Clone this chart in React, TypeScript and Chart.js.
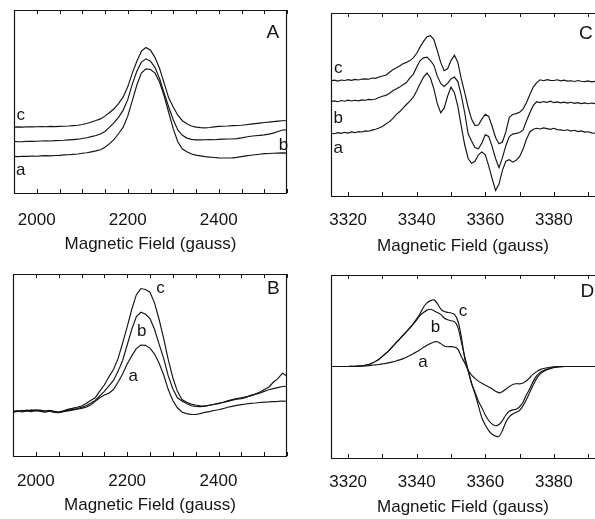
import React, { useEffect, useRef } from 'react';
import { Chart, registerables } from 'chart.js';

Chart.register(...registerables);
Chart.defaults.font.family = '"Liberation Sans", Arial, Helvetica, sans-serif';

// ---------- data ----------
const fieldLow = [
  1950, 1960, 1970, 1980, 1990, 2000, 2010, 2020, 2030, 2040,
  2050, 2060, 2070, 2080, 2090, 2100, 2110, 2120, 2130, 2140,
  2150, 2160, 2170, 2180, 2190, 2200, 2210, 2220, 2230, 2240,
  2250, 2260, 2270, 2280, 2290, 2300, 2310, 2320, 2330, 2340,
  2350, 2360, 2370, 2380, 2390, 2400, 2410, 2420, 2430, 2440,
  2450, 2460, 2470, 2480, 2490, 2500, 2510, 2520, 2530, 2540,
  2550,
];

const fieldHigh = [
  3315, 3316, 3317, 3318, 3319, 3320, 3321, 3322, 3323, 3324,
  3325, 3326, 3327, 3328, 3329, 3330, 3331, 3332, 3333, 3334,
  3335, 3336, 3337, 3338, 3339, 3340, 3341, 3342, 3343, 3344,
  3345, 3346, 3347, 3348, 3349, 3350, 3351, 3352, 3353, 3354,
  3355, 3356, 3357, 3358, 3359, 3360, 3361, 3362, 3363, 3364,
  3365, 3366, 3367, 3368, 3369, 3370, 3371, 3372, 3373, 3374,
  3375, 3376, 3377, 3378, 3379, 3380, 3381, 3382, 3383, 3384,
  3385, 3386, 3387, 3388, 3389, 3390, 3391, 3392,
];

// Panel A
const panelA_a = [
  20.0, 19.9, 20.1, 20.0, 20.2, 20.1, 20.3, 20.4, 20.3, 20.5,
  20.6, 20.8, 20.9, 21.1, 21.3, 21.7, 22.0, 22.5, 23.0, 23.6,
  25.0, 27.0, 29.3, 32.5, 36.0, 42.0, 50.5, 59.0, 65.5, 67.8,
  67.5, 65.5, 60.5, 53.0, 44.0, 35.0, 28.0, 24.0, 22.5, 21.3,
  20.7, 20.3, 19.9, 19.6, 19.4, 19.2, 19.1, 19.1, 19.2, 19.5,
  19.9, 20.3, 20.6, 20.9, 21.2, 21.5, 21.6, 21.7, 21.8, 21.9,
  21.8,
];
const panelA_b = [
  28.2, 28.0, 28.1, 28.3, 28.2, 28.3, 28.4, 28.5, 28.4, 28.6,
  28.7, 28.8, 29.0, 29.2, 29.4, 29.8, 30.2, 30.8, 31.4, 32.2,
  33.6, 36.0, 38.5, 41.5, 45.3, 51.0, 59.5, 66.5, 71.5, 73.3,
  72.0, 68.5, 62.5, 54.5, 47.0, 40.0, 34.5, 31.5, 30.0, 29.3,
  29.0, 29.0, 29.1, 29.2, 29.1, 29.3, 29.4, 29.5, 29.5, 29.7,
  30.1, 30.6, 31.0, 31.3, 31.5, 31.8, 32.2, 32.7, 33.6, 34.4,
  34.5,
];
const panelA_c = [
  36.0, 36.1, 36.0, 36.2, 36.1, 36.2, 36.3, 36.2, 36.4, 36.3,
  36.4, 36.5, 36.6, 36.8, 37.0, 37.4, 38.0, 38.8, 39.6, 40.5,
  42.0, 44.0, 46.0, 49.0, 52.5, 58.0, 65.5, 72.0, 77.5, 79.5,
  78.0, 74.0, 68.0, 60.0, 52.0, 47.0, 42.5, 39.5, 37.8, 36.6,
  36.0, 35.7, 35.6, 35.8, 36.1, 36.4, 36.5, 36.6, 36.8, 36.9,
  37.0, 37.3, 37.6, 37.9, 38.2, 38.5, 38.7, 39.0, 39.3, 39.5,
  39.6,
];

// Panel B
const panelB_a = [
  24.0, 24.6, 24.2, 24.8, 24.4, 24.9, 24.5, 24.1, 24.6, 24.0,
  23.8, 24.3, 24.8, 25.2, 25.7, 26.2, 26.8, 28.0, 30.0, 32.0,
  33.5, 34.5, 36.5, 40.5, 45.0, 50.5, 55.0, 59.0, 61.0, 60.8,
  59.3, 56.0, 51.0, 44.5, 36.5, 30.5, 26.5, 24.2, 23.3, 22.9,
  22.8, 23.3, 24.0, 24.4, 25.0, 25.4, 26.0, 26.8, 27.3, 27.8,
  28.2, 28.6, 28.9, 29.1, 29.4, 29.6, 29.7, 29.9, 30.0, 30.2,
  30.1,
];
const panelB_b = [
  24.8, 24.4, 25.1, 24.7, 25.3, 24.9, 25.2, 24.5, 24.9, 24.4,
  24.0, 24.5, 25.1, 25.6, 26.1, 26.7, 27.6, 29.0, 30.5, 33.0,
  35.5, 38.5, 41.5, 46.5, 52.5, 61.0, 69.5, 76.5, 79.0, 78.0,
  75.5, 69.5, 61.5, 53.5, 44.0, 37.0, 32.0, 30.2, 28.8, 27.6,
  27.3, 27.1, 27.4, 27.9, 28.3, 28.8, 29.5, 30.3, 31.0, 31.5,
  32.0, 32.5, 33.0, 33.8, 34.5, 35.5, 36.4, 37.0, 37.6, 38.2,
  38.3,
];
const panelB_c = [
  24.3, 25.0, 24.6, 25.2, 24.8, 25.4, 25.0, 24.7, 25.1, 24.5,
  24.2, 24.9, 25.6, 26.2, 26.8, 27.5, 28.8, 30.5, 32.0, 35.6,
  39.0, 43.5, 47.5, 53.5, 62.0, 71.0, 80.5, 88.5, 92.0, 91.5,
  90.0, 84.0, 75.0, 64.5, 53.0, 43.0, 35.5, 31.0, 29.5, 28.5,
  28.0, 27.6, 27.4, 27.9, 28.4, 29.0, 29.4, 30.0, 30.6, 31.2,
  31.5, 32.2, 33.3, 34.0, 35.0, 36.5, 37.8, 40.5, 42.5, 45.5,
  44.0,
];

// Panel C
const panelC_a = [
  34.3, 34.0, 34.6, 34.2, 34.8, 34.4, 35.0, 34.6, 35.2, 35.0,
  35.6, 35.4, 36.0, 36.5, 37.2, 38.0, 39.3, 40.5, 42.3, 44.5,
  46.0, 48.0, 50.0, 51.8, 54.0, 57.5, 61.5, 65.0, 67.2, 64.5,
  58.5, 50.5, 45.5, 48.0, 54.5, 59.5, 56.5, 49.0, 38.0, 28.0,
  20.5, 17.9, 19.0, 22.5, 24.1, 22.5, 16.5, 9.5, 3.0, 6.5,
  14.0, 19.0, 19.8, 18.5, 19.5, 21.5, 25.5, 31.0, 35.0, 36.5,
  37.0, 36.6, 37.2, 36.8, 36.4, 37.0, 36.3, 36.1, 35.8, 36.2,
  35.5, 35.9, 35.2, 35.6, 34.9, 35.1, 34.5, 34.3,
];
const panelC_b = [
  51.6, 52.0, 51.5, 52.2, 51.8, 52.4, 51.9, 52.3, 52.0, 52.5,
  52.3, 52.8, 52.6, 53.0, 53.8, 54.5, 55.0, 56.0, 57.5, 58.5,
  59.5, 60.8, 62.0, 64.5, 66.5, 70.5, 74.0, 75.5, 75.9, 74.0,
  71.5, 65.5, 61.5, 59.9, 61.5, 64.0, 65.0, 62.5, 55.0, 45.5,
  34.0, 30.0, 26.5, 25.8, 29.0, 33.5, 32.5, 27.0, 20.5, 15.5,
  21.0, 27.5, 32.5, 33.8, 34.2, 34.7, 36.0, 41.0, 45.5, 49.5,
  51.5, 51.0, 51.6, 51.2, 51.8, 51.0, 51.4, 50.9, 51.3, 50.8,
  51.2, 50.6, 51.0, 50.5, 50.9, 50.4, 50.8, 50.5,
];
const panelC_c = [
  63.0, 63.3, 62.8, 63.4, 63.1, 63.6, 63.2, 63.7, 63.4, 63.9,
  64.0, 63.8, 64.5, 64.3, 65.0, 65.6, 66.0, 67.5, 69.0, 70.0,
  71.0, 72.3, 73.0, 74.0, 75.5, 78.0, 81.5, 84.5, 87.0, 87.6,
  85.5, 79.5, 73.0, 68.5, 69.5, 74.0, 77.0, 73.0, 64.0, 56.5,
  48.5, 42.0, 38.5, 38.8, 42.0, 44.7, 43.5, 38.0, 32.0, 28.5,
  29.5, 35.0, 43.0, 44.5, 45.0, 45.8, 47.5, 51.0, 55.5, 59.5,
  62.0, 63.5, 63.0, 63.6, 63.2, 63.1, 63.5, 62.9, 63.3, 62.8,
  63.0, 62.6, 63.1, 62.7, 62.5, 62.9, 62.4, 62.6,
];

// Panel D
const panelD_a = [
  50.0, 50.0, 50.0, 50.0, 50.0, 50.0, 50.0, 50.0, 50.1, 50.2,
  50.3, 50.5, 50.7, 50.9, 51.1, 51.4, 51.7, 52.1, 52.5, 53.0,
  53.6, 54.3, 55.1, 56.0, 57.0, 58.0, 59.2, 60.5, 61.6, 62.6,
  63.4, 63.5, 62.5, 61.2, 60.8, 60.9, 60.7, 59.5, 55.5, 52.0,
  48.0, 45.3, 43.5, 42.0, 40.8, 39.8, 38.8, 37.8, 36.5, 35.6,
  36.3, 37.6, 39.0, 40.2, 40.6, 40.5, 41.0, 42.2, 44.0, 45.8,
  47.2, 48.3, 48.9, 49.3, 49.6, 49.8, 49.9, 50.0, 50.0, 50.0,
  50.0, 50.0, 50.0, 50.0, 50.0, 50.0, 50.0, 50.0,
];
const panelD_b = [
  50.0, 50.0, 50.0, 50.0, 50.0, 50.0, 50.05, 50.1, 50.2, 50.4,
  50.7, 51.1, 51.8, 52.8, 54.0, 55.5, 57.2, 59.0, 61.0, 63.0,
  65.0, 67.0, 69.0, 71.0, 73.2, 75.5, 78.0, 79.5, 80.8, 81.3,
  80.5, 79.5, 78.5, 76.5, 75.5, 75.0, 74.5, 71.5, 63.6, 55.5,
  48.0, 40.5, 36.0, 31.0, 27.5, 23.5, 20.5, 18.5, 17.6, 18.3,
  20.5, 23.5, 25.5, 26.3, 26.6, 28.0, 30.5, 34.5, 38.0, 42.0,
  45.0, 46.8, 47.8, 48.5, 49.1, 49.5, 49.8, 49.9, 50.0, 50.0,
  50.0, 50.0, 50.0, 50.0, 50.0, 50.0, 50.0, 50.0,
];
const panelD_c = [
  50.0, 50.0, 50.0, 50.0, 50.0, 50.0, 50.05, 50.1, 50.2, 50.4,
  50.7, 51.1, 51.8, 52.8, 54.0, 55.5, 57.2, 59.0, 61.0, 63.0,
  65.0, 67.0, 69.0, 71.2, 73.5, 76.0, 79.0, 82.5, 84.8, 86.0,
  86.4, 84.5, 81.5, 80.0, 79.6, 79.2, 78.5, 75.0, 66.4, 54.5,
  47.5, 41.0, 35.0, 28.5, 22.0, 18.0, 15.0, 13.0, 12.0, 11.8,
  15.0, 19.5, 22.5, 24.0, 25.0, 26.0, 28.5, 32.0, 36.0, 40.0,
  43.5, 46.0, 47.3, 48.3, 49.0, 49.5, 49.8, 49.9, 50.0, 50.0,
  50.0, 50.0, 50.0, 50.0, 50.0, 50.0, 50.0, 50.0,
];

const lowTickLabels = [2000, 2200, 2400];
const highTickLabels = [3320, 3340, 3360, 3380];
const axisTitle = 'Magnetic Field (gauss)';

// ---------- panel setup ----------
type Note = { text: string; x: number; y: number; size: number };
type PanelDef = {
  left: number; top: number; width: number; height: number;
  field: number[]; series: number[][];
  min: number; max: number; step: number; labels: number[];
  padding: { left: number; right: number; top: number; bottom: number };
  axisHeight: number; tickPad: number; titlePad: number;
  rightBorder: boolean; smooth: boolean; notes: Note[];
};

const INK = '#141414';
const FONT = '"Liberation Sans", Arial, Helvetica, sans-serif';

const panels: PanelDef[] = [
  {
    left: 0, top: 0, width: 297, height: 262,
    field: fieldLow, series: [panelA_a, panelA_b, panelA_c],
    min: 1950, max: 2550, step: 50, labels: lowTickLabels,
    padding: { left: 14, right: 10, top: 10, bottom: 0 },
    axisHeight: 69, tickPad: 17, titlePad: 7, rightBorder: true, smooth: false,
    notes: [
      { text: 'A', x: 2519, y: 87.4, size: 19 },
      { text: 'c', x: 1965, y: 42.6, size: 17 },
      { text: 'b', x: 2542, y: 25.8, size: 17 },
      { text: 'a', x: 1965, y: 12.6, size: 17 },
    ],
  },
  {
    left: 0, top: 262, width: 297, height: 257,
    field: fieldLow, series: [panelB_a, panelB_b, panelB_c],
    min: 1950, max: 2550, step: 50, labels: lowTickLabels,
    padding: { left: 13, right: 10, top: 12, bottom: 0 },
    axisHeight: 63, tickPad: 15, titlePad: 3, rightBorder: true, smooth: false,
    notes: [
      { text: 'B', x: 2520, y: 92.1, size: 19 },
      { text: 'c', x: 2273, y: 92.1, size: 17 },
      { text: 'b', x: 2232, y: 68.3, size: 17 },
      { text: 'a', x: 2213, y: 43.6, size: 17 },
    ],
  },
  {
    left: 297, top: 0, width: 298, height: 262,
    field: fieldHigh, series: [panelC_a, panelC_b, panelC_c],
    min: 3315, max: 3392, step: 10, labels: highTickLabels,
    padding: { left: 34, right: 0, top: 13, bottom: 0 },
    axisHeight: 66, tickPad: 14, titlePad: 5, rightBorder: false, smooth: false,
    notes: [
      { text: 'C', x: 3389.3, y: 88.9, size: 19 },
      { text: 'c', x: 3317.1, y: 69.8, size: 17 },
      { text: 'b', x: 3317.1, y: 42.5, size: 17 },
      { text: 'a', x: 3317.1, y: 26.1, size: 17 },
    ],
  },
  {
    left: 297, top: 262, width: 298, height: 257,
    field: fieldHigh, series: [panelD_a, panelD_b, panelD_c],
    min: 3315, max: 3392, step: 10, labels: highTickLabels,
    padding: { left: 34, right: 0, top: 13, bottom: 0 },
    axisHeight: 61, tickPad: 14, titlePad: 1, rightBorder: false, smooth: true,
    notes: [
      { text: 'D', x: 3389.8, y: 90.9, size: 19 },
      { text: 'c', x: 3353.5, y: 79.9, size: 17 },
      { text: 'b', x: 3345.5, y: 71.4, size: 17 },
      { text: 'a', x: 3341.8, y: 52.1, size: 17 },
    ],
  },
];

function makeFramePlugin(p: PanelDef) {
  return {
    id: 'frame',
    afterDatasetsDraw(chart: any) {
      const { ctx, chartArea } = chart;
      const { left, right, top, bottom } = chartArea;
      const xs = chart.scales.x;
      const ys = chart.scales.y;
      ctx.save();
      ctx.strokeStyle = INK;
      ctx.lineWidth = 1.2;
      ctx.beginPath();
      ctx.moveTo(left + 0.5, top + 0.5);
      ctx.lineTo(left + 0.5, bottom + 0.5);
      ctx.moveTo(left, top + 0.5);
      ctx.lineTo(right, top + 0.5);
      ctx.moveTo(left, bottom + 0.5);
      ctx.lineTo(right, bottom + 0.5);
      if (p.rightBorder) {
        ctx.moveTo(right - 0.5, top);
        ctx.lineTo(right - 0.5, bottom + 1);
      }
      ctx.stroke();
      // inward tick marks on bottom and top edges
      ctx.lineWidth = 1;
      ctx.beginPath();
      const first = Math.ceil(p.min / p.step) * p.step;
      for (let v = first; v <= p.max + 1e-9; v += p.step) {
        const px = Math.round(xs.getPixelForValue(v)) + 0.5;
        ctx.moveTo(px, bottom);
        ctx.lineTo(px, bottom - 4);
        ctx.moveTo(px, top);
        ctx.lineTo(px, top + 4);
      }
      ctx.stroke();
      // trace and panel labels
      ctx.fillStyle = INK;
      ctx.textAlign = 'center';
      ctx.textBaseline = 'middle';
      p.notes.forEach((n) => {
        ctx.font = `${n.size}px ${FONT}`;
        ctx.fillText(n.text, xs.getPixelForValue(n.x), ys.getPixelForValue(n.y));
      });
      ctx.restore();
    },
  };
}

function Panel({ p }: { p: PanelDef }) {
  const ref = useRef<HTMLCanvasElement | null>(null);
  useEffect(() => {
    if (!ref.current) return;
    const chart = new Chart(ref.current, {
      type: 'line',
      data: {
        datasets: p.series.map((ys) => ({
          data: p.field.map((x, i) => ({ x, y: ys[i] })),
          borderColor: INK,
          borderWidth: 1.15,
          pointRadius: 0,
          fill: false,
          tension: p.smooth ? 0.3 : 0,
        })),
      },
      options: {
        animation: false,
        responsive: false,
        events: [],
        layout: { padding: p.padding },
        plugins: { legend: { display: false }, tooltip: { enabled: false } },
        scales: {
          x: {
            type: 'linear',
            min: p.min,
            max: p.max,
            grid: { display: false, drawTicks: true, tickLength: p.tickPad },
            border: { display: false },
            afterBuildTicks: (s: any) => {
              s.ticks = p.labels.map((v) => ({ value: v }));
            },
            ticks: {
              autoSkip: false,
              maxRotation: 0,
              padding: 0,
              color: INK,
              font: { size: 17 },
              callback: (v: any) => String(v),
            },
            title: {
              display: true,
              text: axisTitle,
              color: INK,
              font: { size: 17 },
              padding: { top: 0, bottom: p.titlePad },
            },
            afterFit: (s: any) => {
              s.height = p.axisHeight;
            },
          },
          y: { display: false, min: 0, max: 100 },
        },
      },
      plugins: [makeFramePlugin(p)],
    } as any);
    return () => chart.destroy();
  }, [p]);
  return (
    <div style={{ position: 'absolute', left: p.left, top: p.top, width: p.width, height: p.height }}>
      <canvas ref={ref} width={p.width} height={p.height} style={{ display: 'block' }} />
    </div>
  );
}

export default function App() {
  return (
    <div style={{ position: 'absolute', left: 0, top: 0, width: 595, height: 519, background: '#fff', overflow: 'hidden' }}>
      {panels.map((p, i) => (
        <Panel key={i} p={p} />
      ))}
    </div>
  );
}
